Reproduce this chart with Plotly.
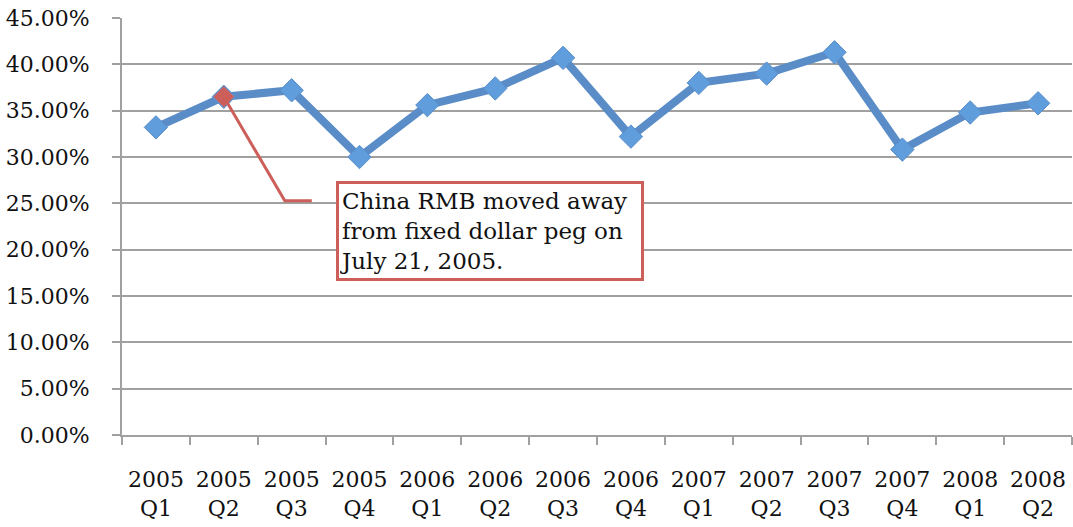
import plotly.graph_objects as go

# Quarterly share values (fraction)
quarters = ["2005<br>Q1", "2005<br>Q2", "2005<br>Q3", "2005<br>Q4",
            "2006<br>Q1", "2006<br>Q2", "2006<br>Q3", "2006<br>Q4",
            "2007<br>Q1", "2007<br>Q2", "2007<br>Q3", "2007<br>Q4",
            "2008<br>Q1", "2008<br>Q2"]
share = [0.332, 0.365, 0.372, 0.300,
         0.356, 0.374, 0.407, 0.322,
         0.380, 0.390, 0.413, 0.308,
         0.348, 0.358]

note_index = 1  # 2005 Q2, when the peg was dropped
note_text = "China RMB moved away<br>from fixed dollar peg on<br>July 21, 2005."

FONT = "DejaVu Serif"
BLUE_LINE = "#5A8DC8"
BLUE_FILL = "#5F9DDC"
RED = "#CD5F5A"
GRID = "#A0A0A0"

fig = go.Figure()

fig.add_trace(go.Scatter(
    x=quarters, y=share, mode="lines+markers",
    line=dict(color=BLUE_LINE, width=8),
    marker=dict(symbol="diamond", size=18, color=BLUE_FILL,
                line=dict(color=BLUE_LINE, width=1)),
    hoverinfo="skip", showlegend=False,
))

# Callout arrowhead on the annotated point
fig.add_trace(go.Scatter(
    x=[quarters[note_index]], y=[share[note_index]], mode="markers",
    marker=dict(symbol="diamond", size=16, color=RED),
    hoverinfo="skip", showlegend=False,
))

# Elbow callout line from the point toward the note box
fig.add_shape(
    type="path", xref="x", yref="y",
    xsizemode="pixel", ysizemode="pixel",
    xanchor=note_index, yanchor=share[note_index],
    path="M 0 0 L 61 -104 L 88 -104",
    line=dict(color=RED, width=3),
)

fig.add_annotation(
    xref="x", yref="y", x=note_index, y=share[note_index],
    xanchor="left", yanchor="top", xshift=112, yshift=-84,
    text=note_text, showarrow=False, align="left", valign="middle",
    width=300, height=92,
    font=dict(family=FONT, size=23, color="#111111"),
    bgcolor="white", bordercolor=RED, borderwidth=3, borderpad=1,
)

fig.update_layout(
    width=1073, height=527,
    margin=dict(l=122, r=1, t=18, b=92),
    paper_bgcolor="white", plot_bgcolor="white",
    font=dict(family=FONT, size=22, color="#111111"),
)

fig.update_xaxes(
    type="category", range=[-0.5, len(quarters) - 0.5],
    tickson="boundaries", ticks="outside", ticklen=8, tickwidth=2,
    tickcolor=GRID, showline=True, linecolor=GRID, linewidth=2,
    showgrid=False, tickfont=dict(family=FONT, size=22),
    ticklabelstandoff=24,
)
fig.update_yaxes(
    range=[0, 0.45], dtick=0.05, tickformat=".2%",
    ticks="outside", ticklen=8, tickwidth=2, tickcolor=GRID,
    showline=True, linecolor=GRID, linewidth=2,
    showgrid=True, gridcolor=GRID, gridwidth=2, zeroline=False,
    tickfont=dict(family=FONT, size=22), ticklabelstandoff=18,
)

fig.write_html("out.html")
